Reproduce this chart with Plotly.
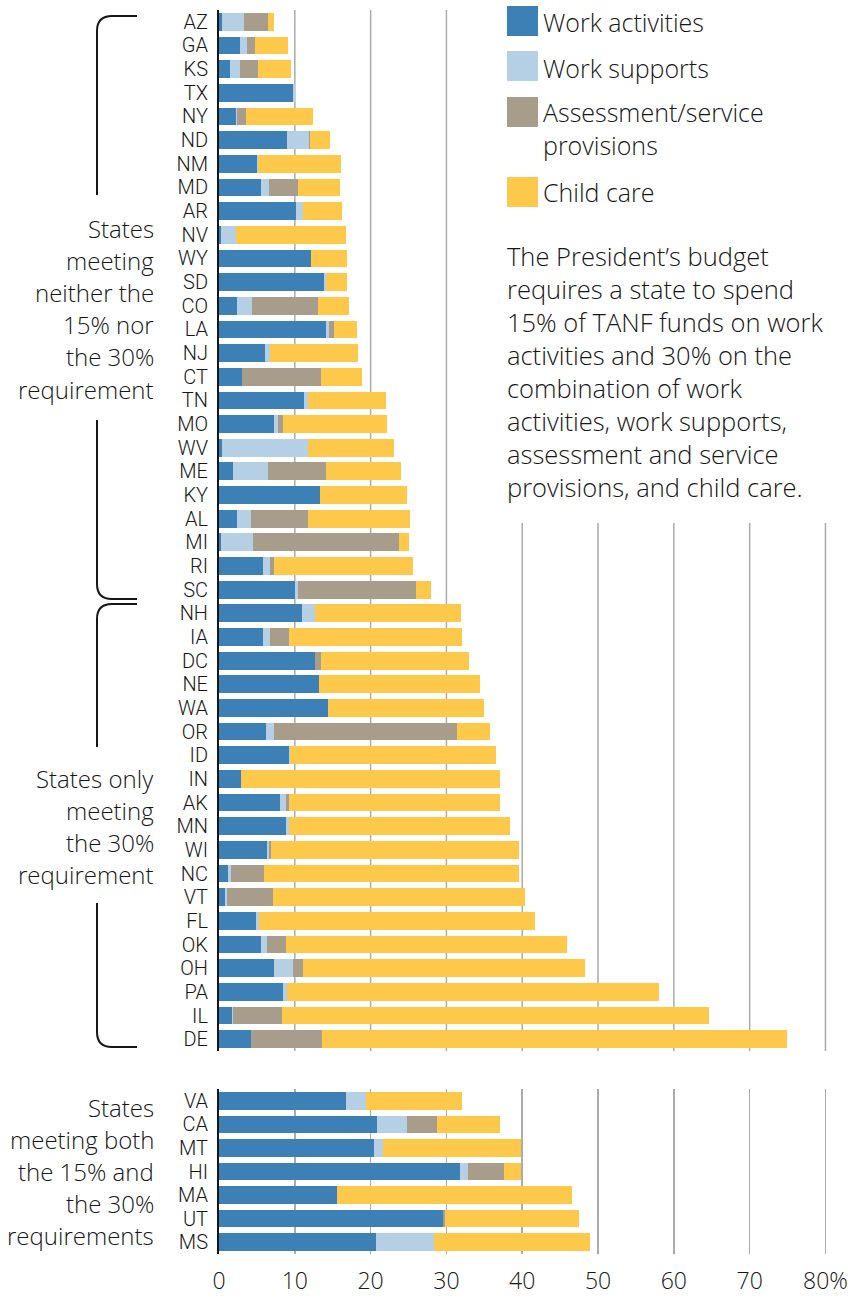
import plotly.graph_objects as go
from plotly.subplots import make_subplots

# ---------------- data ----------------
states_top = ["AZ", "GA", "KS", "TX", "NY", "ND", "NM", "MD", "AR", "NV", "WY", "SD",
              "CO", "LA", "NJ", "CT", "TN", "MO", "WV", "ME", "KY", "AL", "MI", "RI",
              "SC", "NH", "IA", "DC", "NE", "WA", "OR", "ID", "IN", "AK", "MN", "WI",
              "NC", "VT", "FL", "OK", "OH", "PA", "IL", "DE"]
work_act_top = [0.4, 2.8, 1.4, 9.7, 2.3, 8.95, 5.0, 5.5, 10.2, 0.2, 12.2, 13.9,
                2.4, 14.1, 6.1, 3.0, 11.15, 7.3, 0.4, 1.8, 13.3, 2.35, 0.3, 5.8,
                10.0, 11.0, 5.8, 12.6, 13.2, 14.4, 6.2, 9.2, 2.85, 8.0, 8.9, 6.35,
                1.2, 0.75, 4.85, 5.5, 7.3, 8.5, 1.65, 4.2]
work_sup_top = [2.9, 0.9, 1.4, 0.35, 0.1, 2.95, 0.15, 1.1, 0.9, 2.0, 0.0, 0.25,
                2.0, 0.45, 0.6, 0.0, 0.65, 0.5, 11.4, 4.6, 0.0, 1.9, 4.2, 0.9,
                0.45, 1.6, 0.9, 0.0, 0.0, 0.0, 1.0, 0.2, 0.0, 0.8, 0.3, 0.3,
                0.4, 0.35, 0.45, 0.85, 2.5, 0.45, 0.2, 0.0]
assess_top = [3.2, 1.05, 2.4, 0.0, 1.1, 0.1, 0.0, 3.8, 0.0, 0.0, 0.0, 0.0,
              8.6, 0.65, 0.0, 10.5, 0.0, 0.7, 0.0, 7.75, 0.0, 7.5, 19.2, 0.6,
              15.5, 0.0, 2.5, 0.85, 0.0, 0.0, 24.2, 0.0, 0.0, 0.45, 0.0, 0.25,
              4.4, 6.05, 0.0, 2.5, 1.25, 0.0, 6.4, 9.4]
child_top = [0.7, 4.4, 4.3, 0.0, 8.9, 2.7, 10.9, 5.5, 5.1, 14.5, 4.65, 2.8,
             4.2, 2.95, 11.65, 5.4, 10.2, 13.7, 11.35, 9.85, 11.5, 13.4, 1.35, 18.25,
             2.0, 19.3, 22.8, 19.5, 21.25, 20.5, 4.3, 27.2, 34.2, 27.8, 29.25, 32.65,
             33.6, 33.2, 36.35, 37.0, 37.2, 49.1, 56.4, 61.35]

states_bot = ["VA", "CA", "MT", "HI", "MA", "UT", "MS"]
work_act_bot = [16.7, 20.85, 20.45, 31.75, 15.6, 29.5, 20.65]
work_sup_bot = [2.65, 3.95, 1.15, 1.05, 0.0, 0.0, 7.75]
assess_bot = [0.0, 3.9, 0.0, 4.8, 0.0, 0.3, 0.0]
child_bot = [12.65, 8.4, 18.2, 2.3, 30.9, 17.65, 20.6]

series_names = ["Work activities", "Work supports",
                "Assessment/service<br>provisions", "Child care"]
colors = ["#3D80B6", "#B5D0E4", "#A89C8B", "#FEC84B"]

x_tickvals = [0, 10, 20, 30, 40, 50, 60, 70, 80]
x_ticktext = ["0", "10", "20", "30", "40", "50", "60", "70", "80%"]

group_labels = [
    ["States", "meeting", "neither the", "15% nor", "the 30%", "requirement"],
    ["States only", "meeting", "the 30%", "requirement"],
    ["States", "meeting both", "the 15% and", "the 30%", "requirements"],
]
note_lines = ["The President\u2019s budget", "requires a state to spend",
              "15% of TANF funds on work", "activities and 30% on the",
              "combination of work", "activities, work supports,",
              "assessment and service", "provisions, and child care."]

# ---------------- geometry ----------------
W, H = 853, 1298
ML, MR, MT, MB = 219, 23, 10, 44
PW, PH = W - ML - MR, H - MT - MB


def px(xp):
    return (xp - ML) / PW


def py(yp):
    return 1 - (yp - MT) / PH


TEXT_FONT = "Open Sans, Roboto, sans-serif"
TICK_FONT = "Roboto, Open Sans, sans-serif"
INK = "#161616"
TW = 300  # light weight text

fig = make_subplots(rows=2, cols=1, shared_xaxes=False, vertical_spacing=0.0)

top_series = [work_act_top, work_sup_top, assess_top, child_top]
bot_series = [work_act_bot, work_sup_bot, assess_bot, child_bot]
for name, col, vals in zip(series_names, colors, top_series):
    fig.add_trace(go.Bar(y=states_top, x=vals, orientation="h", name=name,
                         marker=dict(color=col, line=dict(width=0)),
                         showlegend=False), row=1, col=1)
for name, col, vals in zip(series_names, colors, bot_series):
    fig.add_trace(go.Bar(y=states_bot, x=vals, orientation="h", name=name,
                         marker=dict(color=col, line=dict(width=0)),
                         showlegend=False), row=2, col=1)

TOP_PX = (10, 1051)
BOT_PX = (1089, 1254)
top_dom = [py(TOP_PX[1]), py(TOP_PX[0])]
bot_dom = [py(BOT_PX[1]), py(BOT_PX[0])]

GRID = "#ABABAB"
xcommon = dict(range=[0, 80.6], tickvals=x_tickvals, ticktext=x_ticktext,
               zeroline=False, showline=False, fixedrange=True, automargin=False)
fig.update_xaxes(**xcommon, showgrid=False, showticklabels=False, row=1, col=1)
fig.update_xaxes(**xcommon, showgrid=True, gridcolor=GRID, gridwidth=1.5,
                 showticklabels=True, ticks="outside", ticklen=6,
                 tickcolor="rgba(0,0,0,0)",
                 tickfont=dict(family=TEXT_FONT, size=23, color=INK, weight=TW),
                 row=2, col=1)

ycommon = dict(autorange="reversed", showgrid=False, zeroline=False,
               showline=True, linecolor=INK, linewidth=2, automargin=False,
               fixedrange=True,
               ticks="outside", ticklen=5, tickcolor="rgba(0,0,0,0)",
               tickfont=dict(family=TICK_FONT, size=20, color=INK, weight=TW))
fig.update_yaxes(**ycommon, domain=top_dom, tickmode="array",
                 tickvals=states_top, ticktext=states_top, row=1, col=1)
fig.update_yaxes(**ycommon, domain=bot_dom, tickmode="array",
                 tickvals=states_bot, ticktext=states_bot, row=2, col=1)

shapes = []
# gridlines of the upper panel; those right of 30 stop below the note
note_bottom = 1 - (523 - TOP_PX[0]) / (TOP_PX[1] - TOP_PX[0])
for v in x_tickvals[1:]:
    shapes.append(dict(type="line", xref="x", yref="y domain", x0=v, x1=v,
                       y0=0, y1=1 if v <= 30 else note_bottom,
                       line=dict(color=GRID, width=1.5), layer="below"))


def path(pts):
    out = []
    for cmd, coords in pts:
        out.append(cmd + " " + " ".join(f"{px(a):.5f},{py(b):.5f}" for a, b in coords))
    return " ".join(out)


bx, tip = 97, 137
br_paths = [
    [("M", [(tip, 16)]), ("L", [(112, 16)]), ("Q", [(bx, 16), (bx, 31)]),
     ("L", [(bx, 195)])],
    [("M", [(bx, 420)]), ("L", [(bx, 584)]), ("Q", [(bx, 599), (112, 599)]),
     ("L", [(tip, 599)])],
    [("M", [(tip, 604)]), ("L", [(112, 604)]), ("Q", [(bx, 604), (bx, 619)]),
     ("L", [(bx, 747)])],
    [("M", [(bx, 903)]), ("L", [(bx, 1032)]), ("Q", [(bx, 1047), (112, 1047)]),
     ("L", [(tip, 1047)])],
]
for p in br_paths:
    shapes.append(dict(type="path", xref="paper", yref="paper", path=path(p),
                       line=dict(color=INK, width=2)))

# legend swatches
leg_boxes = [(6, 36), (51, 81), (97, 127), (177, 207)]
for (y0, y1), col in zip(leg_boxes, colors):
    shapes.append(dict(type="rect", xref="paper", yref="paper",
                       x0=px(507), x1=px(538), y0=py(y1), y1=py(y0),
                       fillcolor=col, line=dict(width=0)))

annotations = []
leg_text_y = [22, 68, 128, 192]
for name, yy in zip(series_names, leg_text_y):
    annotations.append(dict(xref="paper", yref="paper", x=px(541), y=py(yy),
                            text=name, showarrow=False, xanchor="left",
                            yanchor="middle", align="left",
                            font=dict(family=TEXT_FONT, size=25, color=INK, weight=TW)))

for i, line in enumerate(note_lines):
    annotations.append(dict(xref="paper", yref="paper", x=px(505), y=py(256 + 33 * i),
                            text=line, showarrow=False, xanchor="left",
                            yanchor="middle", align="left",
                            font=dict(family=TEXT_FONT, size=25.5, color=INK, weight=TW)))

group_first_y = [228, 778, 1107]
for lines, y0 in zip(group_labels, group_first_y):
    for i, line in enumerate(lines):
        annotations.append(dict(xref="paper", yref="paper", x=px(156), y=py(y0 + 32.2 * i),
                                text=line, showarrow=False, xanchor="right",
                                yanchor="middle", align="right",
                                font=dict(family=TEXT_FONT, size=24, color=INK, weight=TW)))

fig.update_layout(width=W, height=H, barmode="stack", bargap=0.25,
                  margin=dict(l=ML, r=MR, t=MT, b=MB, autoexpand=False),
                  plot_bgcolor="white", paper_bgcolor="white",
                  hovermode=False,
                  shapes=shapes, annotations=annotations, showlegend=False)

fig.write_html("out.html",
               config={"displayModeBar": False, "staticPlot": True},
               post_script="document.body.style.margin='0px';"
                           "document.body.style.overflow='hidden';")
